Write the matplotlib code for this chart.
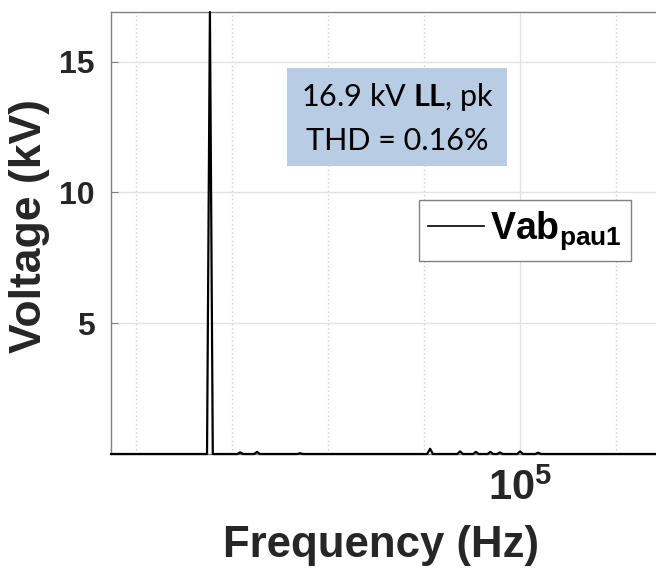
import matplotlib.pyplot as plt
from matplotlib.patches import Rectangle

# Spectrum of the line-to-line voltage (frequency in Hz, magnitude in kV)
freq_hz = [14800, 34800, 35400, 36000,
           41100, 41700, 42300,
           44600, 45200, 45800,
           53600, 54200, 54800,
           80650, 81250, 81850,
           86900, 87500, 88100,
           90200, 90800, 91400,
           93200, 93800, 94400,
           95200, 95800, 96400,
           99400, 100000, 100600,
           103150, 103750, 104350,
           133300]
volt_kv = [0, 0, 16.9, 0,
           0, 0.06, 0,
           0, 0.08, 0,
           0, 0.03, 0,
           0, 0.2, 0,
           0, 0.1, 0,
           0, 0.08, 0,
           0, 0.08, 0,
           0, 0.06, 0,
           0, 0.1, 0,
           0, 0.05, 0,
           0]
peak_kv = max(volt_kv)
thd_pct = 0.16

xticks = [1e5]
xtick_labels = [r'$\mathsf{10}^{\mathsf{5}}$']
minor_xticks = [2e4, 4e4, 6e4, 8e4, 1.2e5]
yticks = [5, 10, 15]

plt.rcParams['font.family'] = 'Liberation Sans'
plt.rcParams['font.weight'] = 'bold'
plt.rcParams['mathtext.fontset'] = 'custom'
plt.rcParams['mathtext.rm'] = 'Lato'
plt.rcParams['mathtext.it'] = 'Lato:italic'
plt.rcParams['mathtext.bf'] = 'Lato:bold'
plt.rcParams['mathtext.sf'] = 'Liberation Sans:bold'

fig = plt.figure(figsize=(6.56, 5.71), dpi=100)
ax = fig.add_axes([111 / 656, 117 / 571, 569 / 656, 442 / 571])

line, = ax.plot(freq_hz, volt_kv, color='black', lw=1.6, clip_on=False, zorder=4)

ax.set_xlim(14800, 133300)
ax.set_ylim(0, 16.9)

ax.set_xticks(xticks)
ax.set_xticklabels(xtick_labels)
ax.set_xticks(minor_xticks, minor=True)
ax.set_yticks(yticks)

ax.grid(which='major', color='#e3e3e3', lw=1, ls='-')
ax.grid(which='minor', axis='x', color='#cfcfcf', lw=1, ls=(0, (1, 2)))
ax.set_axisbelow(True)

for sp in ax.spines.values():
    sp.set_color('#808080')
    sp.set_linewidth(1)

ax.tick_params(axis='y', direction='in', length=5, color='#808080',
               labelsize=23, pad=12, labelcolor='#262626')
ax.tick_params(axis='x', which='both', direction='in', length=0,
               labelsize=30, pad=11, labelcolor='#262626')

fig.text(30 / 656, 1 - 226 / 571, 'Voltage (kV)', rotation=90, fontsize=32,
         ha='center', va='center', color='#262626')
fig.text(381 / 656, 1 - 546 / 571, 'Frequency (Hz)', fontsize=31.5,
         ha='center', va='center', color='#262626')

# Annotation box with peak value and THD
ax.add_patch(Rectangle((0.309, 0.652), 0.387, 0.221, transform=ax.transAxes,
                       facecolor='#b8cce4', edgecolor='none', zorder=3))
ax.text(0.503, 0.808, f'{peak_kv:.1f} kV ' + r'$\mathbf{LL}$' + ', pk',
        transform=ax.transAxes, family='Lato', fontweight='normal', fontsize=22,
        ha='center', va='center', zorder=5)
ax.text(0.503, 0.708, f'THD = {thd_pct:.2f}%',
        transform=ax.transAxes, family='Lato', fontweight='normal', fontsize=22,
        ha='center', va='center', zorder=5)

leg = ax.legend([line], [r'$\mathsf{Vab}_{\mathsf{pau1}}$'], loc='upper left',
                bbox_to_anchor=(0.541, 0.575), borderaxespad=0, fontsize=27,
                handlelength=1.5, handletextpad=0.15, borderpad=0.25,
                fancybox=False, framealpha=1)
leg.get_frame().set_edgecolor('#808080')
leg.get_frame().set_linewidth(1)
leg.get_lines()[0].set_linewidth(1.2)

fig.savefig('out.png', dpi=100)
